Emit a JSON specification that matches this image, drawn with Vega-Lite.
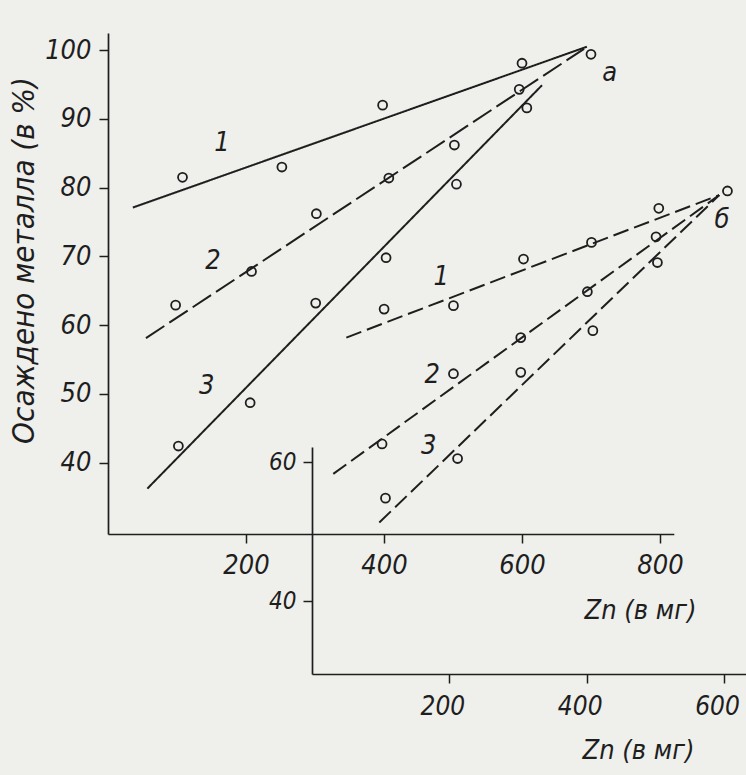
{
  "$schema": "https://vega.github.io/schema/vega-lite/v6.json",
  "width": 638,
  "height": 641,
  "autosize": "none",
  "padding": {"left": 108, "top": 33, "right": 0, "bottom": 101},
  "background": "#efefeb",
  "config": {
    "view": {"stroke": null},
    "font": "DejaVu Sans Condensed, Liberation Sans, sans-serif",
    "axis": {
      "grid": false,
      "domainColor": "#1e1e1e",
      "domainWidth": 1.7,
      "tickColor": "#1e1e1e",
      "tickWidth": 1.5,
      "tickSize": 9,
      "labelFont": "DejaVu Sans Condensed, Liberation Sans, sans-serif",
      "labelFontStyle": "italic",
      "labelFontSize": 27,
      "labelColor": "#1e1e1e",
      "titleFont": "DejaVu Sans Condensed, Liberation Sans, sans-serif",
      "titleFontStyle": "italic",
      "titleFontWeight": "normal",
      "titleColor": "#1e1e1e"
    }
  },
  "datasets": {
    "pointsA": [
      {"series": "1", "zn": 108, "pct": 81.5},
      {"series": "1", "zn": 252, "pct": 83.0},
      {"series": "1", "zn": 398, "pct": 92.0},
      {"series": "1", "zn": 600, "pct": 98.1},
      {"series": "a", "zn": 700, "pct": 99.4},
      {"series": "2", "zn": 98, "pct": 62.9},
      {"series": "2", "zn": 208, "pct": 67.8},
      {"series": "2", "zn": 302, "pct": 76.2},
      {"series": "2", "zn": 407, "pct": 81.4},
      {"series": "2", "zn": 502, "pct": 86.2},
      {"series": "2", "zn": 596, "pct": 94.3},
      {"series": "3", "zn": 102, "pct": 42.4},
      {"series": "3", "zn": 206, "pct": 48.7},
      {"series": "3", "zn": 301, "pct": 63.2},
      {"series": "3", "zn": 403, "pct": 69.8},
      {"series": "3", "zn": 505, "pct": 80.5},
      {"series": "3", "zn": 607, "pct": 91.6}
    ],
    "linesA": [
      {"series": "1", "zn": 36, "pct": 77.1},
      {"series": "1", "zn": 694, "pct": 100.5},
      {"series": "2", "zn": 55, "pct": 58.1},
      {"series": "2", "zn": 690, "pct": 100.2},
      {"series": "3", "zn": 57, "pct": 36.2},
      {"series": "3", "zn": 629, "pct": 94.9}
    ],
    "labelsA": [
      {"label": "a", "zn": 727, "pct": 96.7},
      {"label": "1", "zn": 165, "pct": 86.5},
      {"label": "2", "zn": 152, "pct": 69.3},
      {"label": "3", "zn": 143, "pct": 51.1}
    ],
    "pointsB": [
      {"series": "б", "zn": 605, "pct": 99.0},
      {"series": "1", "zn": 105, "pct": 82.0},
      {"series": "1", "zn": 206, "pct": 82.5},
      {"series": "1", "zn": 308, "pct": 89.2},
      {"series": "1", "zn": 407, "pct": 91.6},
      {"series": "1", "zn": 505, "pct": 96.5},
      {"series": "2", "zn": 102, "pct": 62.6},
      {"series": "2", "zn": 206, "pct": 72.7},
      {"series": "2", "zn": 304, "pct": 77.9},
      {"series": "2", "zn": 401, "pct": 84.5},
      {"series": "2", "zn": 501, "pct": 92.4},
      {"series": "3", "zn": 107, "pct": 54.8},
      {"series": "3", "zn": 212, "pct": 60.5},
      {"series": "3", "zn": 304, "pct": 72.9},
      {"series": "3", "zn": 409, "pct": 78.9},
      {"series": "3", "zn": 503, "pct": 88.7}
    ],
    "linesB": [
      {"series": "1", "zn": 50, "pct": 77.9},
      {"series": "1", "zn": 593, "pct": 98.4},
      {"series": "2", "zn": 31, "pct": 58.3},
      {"series": "2", "zn": 593, "pct": 98.4},
      {"series": "3", "zn": 98, "pct": 51.3},
      {"series": "3", "zn": 593, "pct": 98.4}
    ],
    "labelsB": [
      {"label": "б", "zn": 597, "pct": 94.8},
      {"label": "1", "zn": 188, "pct": 86.6},
      {"label": "2", "zn": 175, "pct": 72.5},
      {"label": "3", "zn": 170, "pct": 62.3}
    ]
  },
  "layer": [
    {
      "encoding": {
        "x": {
          "field": "zn",
          "type": "quantitative",
          "scale": {"domain": [0, 820], "range": [0, 565.8], "zero": false, "nice": false},
          "axis": {
            "values": [200, 400, 600, 800],
            "orient": "bottom",
            "offset": -140,
            "labelPadding": 9,
            "title": "Zn (в мг)",
            "titleFontSize": 27,
            "titleX": 532,
            "titleY": 76,
            "titleAlign": "center",
            "titleBaseline": "middle"
          }
        },
        "y": {
          "field": "pct",
          "type": "quantitative",
          "scale": {"domain": [29.6, 102.5], "range": [501, 0], "zero": false, "nice": false},
          "axis": {
            "values": [40, 50, 60, 70, 80, 90, 100],
            "orient": "left",
            "labelPadding": 8,
            "title": "Осаждено металла (в %)",
            "titleFontSize": 31,
            "titleAngle": -90,
            "titleX": -84,
            "titleY": 227,
            "titleAlign": "center",
            "titleBaseline": "middle"
          }
        }
      },
      "layer": [
        {
          "data": {"name": "linesA"},
          "mark": {"type": "line", "color": "#1e1e1e", "strokeWidth": 2},
          "encoding": {
            "strokeDash": {
              "field": "series",
              "type": "nominal",
              "scale": {"domain": ["1", "2", "3"], "range": [[1, 0], [22, 6], [1, 0]]},
              "legend": null
            }
          }
        },
        {
          "data": {"name": "pointsA"},
          "mark": {"type": "point", "shape": "circle", "filled": false, "size": 80, "stroke": "#1e1e1e", "strokeWidth": 1.8, "opacity": 1}
        },
        {
          "data": {"name": "labelsA"},
          "mark": {"type": "text", "font": "DejaVu Sans Condensed, Liberation Sans, sans-serif", "fontStyle": "italic", "fontSize": 27, "color": "#1e1e1e", "align": "center", "baseline": "middle"},
          "encoding": {"text": {"field": "label"}}
        }
      ]
    },
    {
      "encoding": {
        "x": {
          "field": "zn",
          "type": "quantitative",
          "scale": {"domain": [0, 632], "range": [204, 638], "zero": false, "nice": false},
          "axis": {
            "values": [200, 400, 600],
            "orient": "bottom",
            "offset": 0,
            "labelPadding": 10,
            "labelOffset": -7,
            "labelFontSize": 26,
            "title": "Zn (в мг)",
            "titleFontSize": 27,
            "titleX": 530,
            "titleY": 76,
            "titleAlign": "center",
            "titleBaseline": "middle"
          }
        },
        "y": {
          "field": "pct",
          "type": "quantitative",
          "scale": {"domain": [29.5, 62.16], "range": [641, 414], "zero": false, "nice": false},
          "axis": {
            "values": [40, 60],
            "orient": "left",
            "offset": -204,
            "labelPadding": 7,
            "labelFontSize": 24,
            "title": null
          }
        }
      },
      "layer": [
        {
          "data": {"name": "linesB"},
          "mark": {"type": "line", "color": "#1e1e1e", "strokeWidth": 2, "strokeDash": [16, 6]},
          "encoding": {"detail": {"field": "series", "type": "nominal"}}
        },
        {
          "data": {"name": "pointsB"},
          "mark": {"type": "point", "shape": "circle", "filled": false, "size": 80, "stroke": "#1e1e1e", "strokeWidth": 1.8, "opacity": 1}
        },
        {
          "data": {"name": "labelsB"},
          "mark": {"type": "text", "font": "DejaVu Sans Condensed, Liberation Sans, sans-serif", "fontStyle": "italic", "fontSize": 27, "color": "#1e1e1e", "align": "center", "baseline": "middle"},
          "encoding": {"text": {"field": "label"}}
        }
      ]
    }
  ],
  "resolve": {
    "scale": {"x": "independent", "y": "independent"},
    "axis": {"x": "independent", "y": "independent"}
  }
}
